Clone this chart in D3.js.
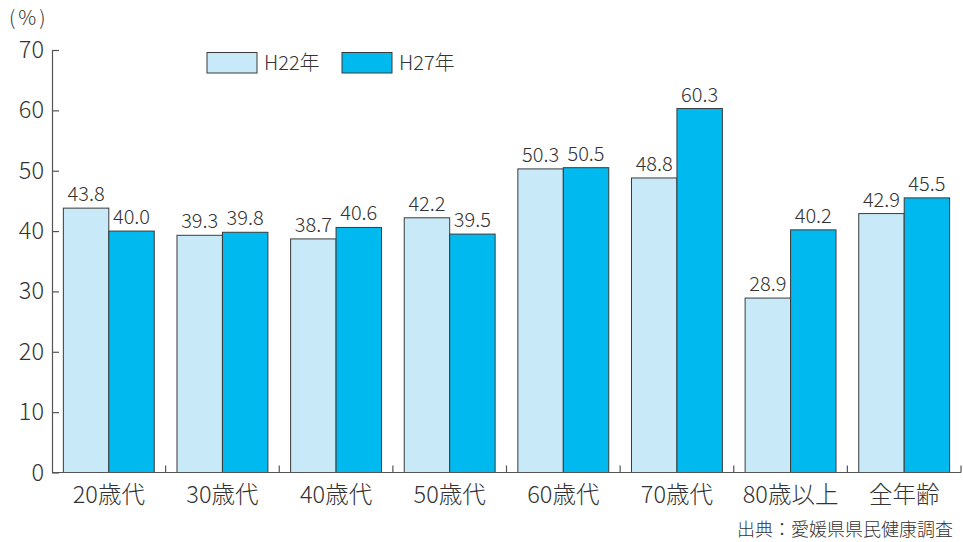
<!DOCTYPE html>
<html><head><meta charset="utf-8">
<script src="https://cdn.jsdelivr.net/npm/d3@7"></script>
<style>
html,body{margin:0;padding:0;background:#fff;}
text{font-family:"Noto Sans CJK JP","Noto Sans",sans-serif;fill:#333;font-weight:300;}
</style></head>
<body><svg id="c" width="963" height="542"></svg>
<script>
const categories = ["20歳代","30歳代","40歳代","50歳代","60歳代","70歳代","80歳以上","全年齢"];
const seriesNames = ["H22年","H27年"];
const h22 = [43.8,39.3,38.7,42.2,50.3,48.8,28.9,42.9];
const h27 = [40.0,39.8,40.6,39.5,50.5,60.3,40.2,45.5];
const yTicks = [0,10,20,30,40,50,60,70];
const colors = ["#c8e9f8","#00b9ef"];
const series = [h22,h27];

const svg = d3.select("#c");
const x0 = d3.scaleBand().domain(categories).range([52,961]).paddingInner(0).paddingOuter(0);
const y = d3.scaleLinear().domain([0,70]).range([472.5,50]);
const xs = d3.scaleBand().domain([0,1]).range([0,x0.bandwidth()]).paddingInner(0).paddingOuter(0.25);

// bars
categories.forEach((c,i)=>{
  series.forEach((s,j)=>{
    const v = s[i];
    const bx = x0(c)+xs(j);
    svg.append("rect").attr("x",bx).attr("y",y(v)).attr("width",xs.bandwidth()).attr("height",y(0)-y(v))
      .attr("fill",colors[j]).attr("stroke","#3a3a3a").attr("stroke-width",1);
    svg.append("text").attr("x",bx+xs.bandwidth()/2).attr("y",y(v)-7).attr("text-anchor","middle")
      .attr("font-size",20).text(v.toFixed(1));
  });
});

// y axis
const yAxis = d3.axisLeft(y).tickValues(yTicks).tickSize(-7).tickPadding(8).tickSizeOuter(0);
const gy = svg.append("g").attr("transform","translate(52,0)").call(yAxis);
gy.select(".domain").attr("stroke","#555").attr("stroke-width",1.2);
gy.selectAll(".tick line").attr("stroke","#555").attr("stroke-width",1.2);
gy.selectAll(".tick text").attr("font-size",23.5).attr("fill","#333").attr("font-family","Noto Sans CJK JP").attr("font-weight",300);

// x axis
svg.append("line").attr("x1",52).attr("x2",961).attr("y1",y(0)).attr("y2",y(0)).attr("stroke","#555").attr("stroke-width",1.2);
categories.forEach(c=>{
  const bx = x0(c)+x0.bandwidth();
  svg.append("line").attr("x1",bx).attr("x2",bx).attr("y1",y(0)).attr("y2",y(0)-7).attr("stroke","#555").attr("stroke-width",1.2);
  svg.append("text").attr("x",x0(c)+x0.bandwidth()/2).attr("y",503).attr("text-anchor","middle").attr("font-size",23.5).text(c);
});

// unit
svg.append("text").attr("x",9).attr("y",25).attr("font-size",20).attr("letter-spacing",3).text("(%)");

// legend
const lg = [{x:207,t:seriesNames[0]},{x:342,t:seriesNames[1]}];
lg.forEach((d,j)=>{
  svg.append("rect").attr("x",d.x).attr("y",52.5).attr("width",50).attr("height",20.5).attr("fill",colors[j]).attr("stroke","#3a3a3a").attr("stroke-width",1);
  svg.append("text").attr("x",d.x+57).attr("y",70).attr("font-size",20).text(d.t);
});

// source
svg.append("text").attr("x",953).attr("y",536).attr("text-anchor","end").attr("font-size",18).text("出典：愛媛県県民健康調査");
</script></body></html>
